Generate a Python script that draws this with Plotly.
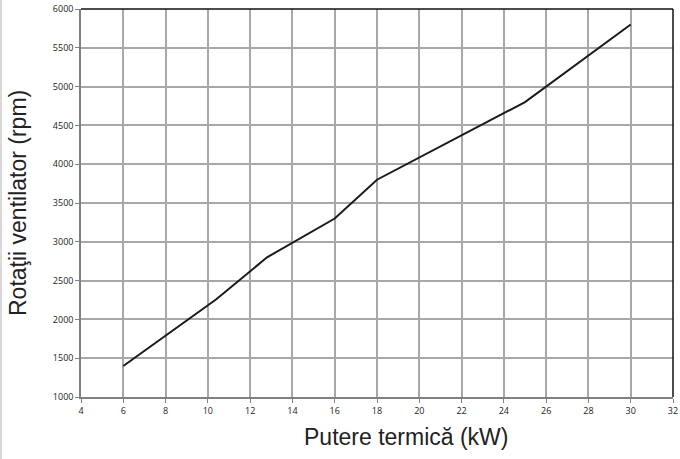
import plotly.graph_objects as go

power_kw = [6, 10.4, 12.8, 16, 18, 25, 30]
fan_rpm = [1400, 2260, 2800, 3300, 3800, 4800, 5800]
x_ticks = list(range(4, 33, 2))
y_ticks = list(range(1000, 6001, 500))

fig = go.Figure()
fig.add_trace(go.Scatter(x=power_kw, y=fan_rpm, mode="lines",
                         line=dict(color="#1a1a1a", width=2), showlegend=False))

tickfont = dict(family="Open Sans", size=9, color="#222")
fig.update_layout(
    width=680, height=459,
    margin=dict(l=81, r=7, t=9, b=62, autoexpand=False),
    paper_bgcolor="white", plot_bgcolor="white",
    xaxis=dict(range=[4, 32], tickvals=x_ticks, ticktext=[str(v) for v in x_ticks],
               showgrid=True, gridcolor="#a8a8a8", gridwidth=1.5,
               showline=True, linecolor="#808080", linewidth=1.5,
               ticks="outside", ticklen=4, tickcolor="#808080",
               tickfont=tickfont, zeroline=False, automargin=False),
    yaxis=dict(range=[1000, 6000], tickvals=y_ticks, ticktext=[str(v) for v in y_ticks],
               showgrid=True, gridcolor="#a8a8a8", gridwidth=1.5,
               showline=True, linecolor="#808080", linewidth=1.5,
               ticks="outside", ticklen=4, tickcolor="#808080",
               tickfont=tickfont, zeroline=False, automargin=False),
    shapes=[
        dict(type="line", xref="paper", yref="paper", x0=0, x1=1, y0=1, y1=1,
             line=dict(color="#111", width=1.5)),
        dict(type="line", xref="paper", yref="paper", x0=1, x1=1, y0=0, y1=1,
             line=dict(color="#111", width=1.5)),
        dict(type="line", xref="paper", yref="paper", x0=-80/592, x1=-80/592, y0=-62/388, y1=1 + 9/388,
             line=dict(color="#d8d8d8", width=2)),
    ],
    annotations=[
        dict(text="Putere termică (kW)", xref="paper", yref="paper", x=(406-81)/592, y=-40/388,
             xanchor="center", yanchor="middle", showarrow=False,
             font=dict(family="Liberation Sans", size=23, color="#222")),
        dict(text="Rotaţii ventilator (rpm)", xref="paper", yref="paper", x=-63/592, y=0.5,
             xanchor="center", yanchor="middle", showarrow=False, textangle=-90,
             font=dict(family="Liberation Sans", size=23, color="#222")),
    ],
)
fig.write_html("out.html")
